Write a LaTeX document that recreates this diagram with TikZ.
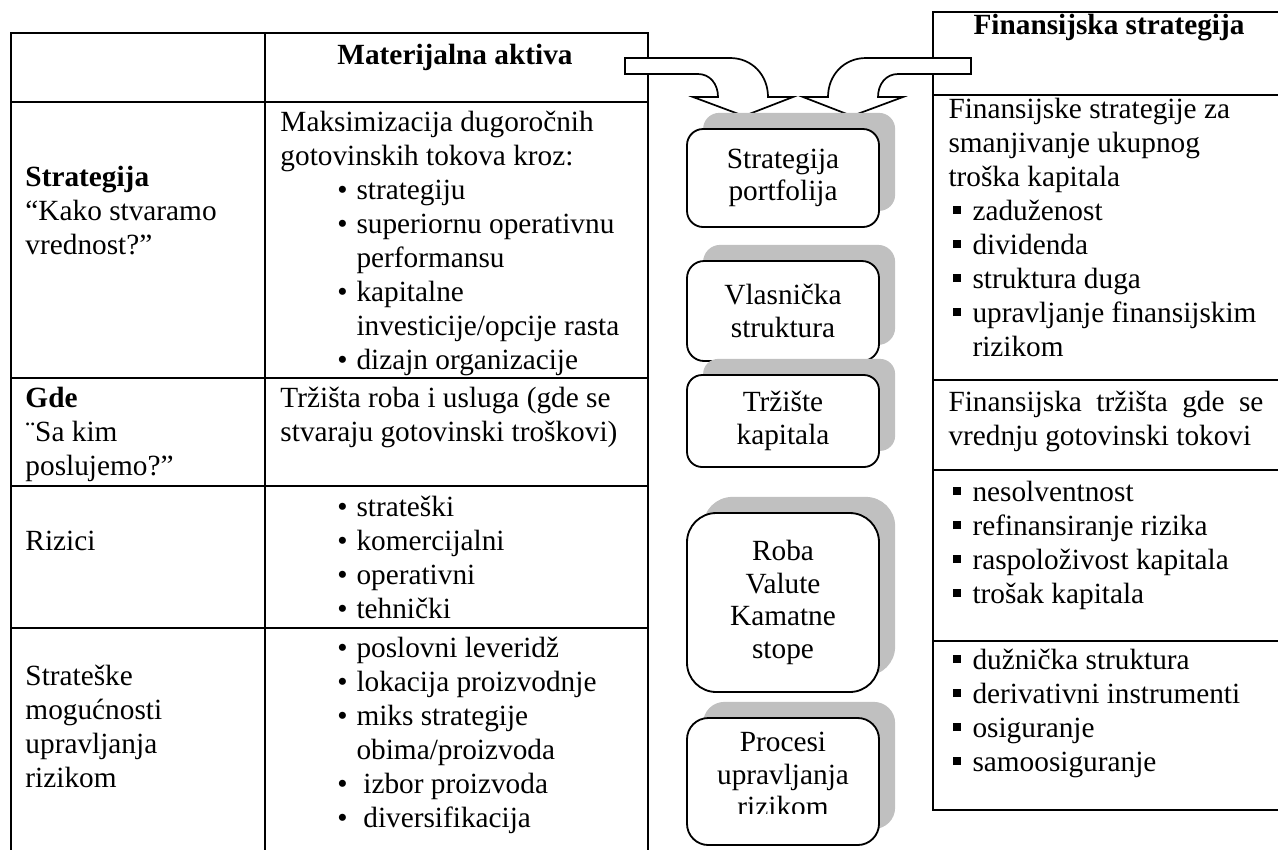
\documentclass[tikz,border=0pt]{standalone}
\usepackage{fontspec}
\setmainfont{Liberation Serif}
\usetikzlibrary{shadows}
\definecolor{shade}{HTML}{C0C0C0}

% bullet helpers (round bullets, square bullets, continuation indents)
\newcommand\bl[1]{\makebox[7.8pt][l]{\textbullet}#1}
\newcommand\blx[1]{\makebox[7.8pt][l]{\textbullet}\hspace{2.8pt}#1}
\newcommand\bc[1]{\hspace*{7.8pt}#1}
\newcommand\sqb[1]{\makebox[8.2pt][l]{\rule[2.4pt]{3.3pt}{3.3pt}}#1}
\newcommand\sqc[1]{\hspace*{8.2pt}#1}

% one text line per node; #3 = centre of first line, lines 34 units apart
\newcommand\celllines[4]{%
  \foreach \t [count=\i from 0] in {#4}{
    \node[txt,name=#1-\i] at (#2,{#3+9+\i*34}) {\t};}}

\tikzset{
  txt/.style={anchor=base west, inner sep=0pt, font=\fontsize{12pt}{13.28pt}\selectfont},
  head/.style={anchor=base, inner sep=0pt, font=\fontsize{12pt}{13.28pt}\selectfont\bfseries},
  tbl/.style={line width=0.9pt, line cap=rect},
  arr/.style={draw, fill=white, line width=0.7pt, line join=miter},
  box/.style={draw, fill=white, line width=0.75pt, rounded corners=#1, inner sep=0pt,
    minimum width={192*0.4096pt}, align=center,
    font=\fontsize{12pt}{13.28pt}\selectfont,
    general shadow={fill=shade, shadow xshift=6.6pt, shadow yshift=6.6pt}},
  boxtxt/.style={anchor=base, inner sep=0pt, font=\fontsize{12pt}{13.28pt}\selectfont}
}

\begin{document}
\begin{tikzpicture}[x=0.4096pt, y=-0.4096pt]
\useasboundingbox (0,0) rectangle (1278,849);
\fill[white] (0,0) rectangle (1278,849);

% ---- left table: tangible assets ----
\draw[tbl] (11,849) -- (11,33) -- (648,33) -- (648,849);
\draw[tbl] (265,33) -- (265,849);
\foreach \y in {102,378,486,628} \draw[tbl] (11,\y) -- (648,\y);

\node[head] (mat) at (455,64) {Materijalna aktiva};

\celllines{s1}{25}{177}{\textbf{Strategija},“Kako stvaramo,vrednost?”}
\celllines{s2}{280}{122}{Maksimizacija dugoročnih,gotovinskih tokova kroz:}
\celllines{s3}{337}{190}{\bl{strategiju},\bl{superiornu operativnu},\bc{performansu},\bl{kapitalne},\bc{investicije/opcije rasta},\bl{dizajn organizacije}}

\celllines{g1}{25}{398}{\textbf{Gde},¨Sa kim,poslujemo?”}
\celllines{g2}{280}{398}{Tržišta roba i usluga (gde se,stvaraju gotovinski troškovi)}

\celllines{r1}{25}{541}{Rizici}
\celllines{r2}{337}{507}{\bl{strateški},\bl{komercijalni},\bl{operativni},\bl{tehnički}}

\celllines{m1}{25}{676}{Strateške,mogućnosti,upravljanja,rizikom}
\celllines{m2}{337}{648}{\bl{poslovni leveridž},\bl{lokacija proizvodnje},\bl{miks strategije},\bc{obima/proizvoda},\blx{izbor proizvoda},\blx{diversifikacija}}

% ---- right table: financial strategy ----
\draw[tbl] (1290,12) -- (933,12) -- (933,810) -- (1290,810);
\foreach \y in {95,380,470,641} \draw[tbl] (933,\y) -- (1290,\y);

\node[head] (fin) at (1109,34) {Finansijska strategija};

\celllines{f1}{948}{109}{Finansijske strategije za,smanjivanje ukupnog,troška kapitala}
\celllines{f2}{952}{211}{\sqb{zaduženost},\sqb{dividenda},\sqb{struktura duga},\sqb{upravljanje finansijskim},\sqc{rizikom}}
\celllines{f3}{948}{402}{\makebox[129pt][s]{Finansijska tržišta gde se},vrednju gotovinski tokovi}
\celllines{f4}{952}{492}{\sqb{nesolventnost},\sqb{refinansiranje rizika},\sqb{raspoloživost kapitala},\sqb{trošak kapitala}}
\celllines{f5}{952}{660}{\sqb{dužnička struktura},\sqb{derivativni instrumenti},\sqb{osiguranje},\sqb{samoosiguranje}}

% ---- bent block arrows from both headers into the centre column ----
\draw[arr] (625,58) -- (730,58) .. controls (752,58) and (768,75) .. (768,97)
  -- (793,97) -- (744,116) -- (693,97) -- (718,97)
  .. controls (718,84) and (710,74) .. (698,74) -- (625,74) -- cycle;
\draw[arr] (971,58) -- (866,58) .. controls (844,58) and (828,75) .. (828,97)
  -- (803,97) -- (852,116) -- (903,97) -- (878,97)
  .. controls (878,84) and (886,74) .. (898,74) -- (971,74) -- cycle;

% ---- centre column of rounded boxes ----
\node[box=6.6pt, minimum height={98*0.4096pt}] (b1) at (783,178) {Strategija\\portfolija};
\node[box=7pt, minimum height={100*0.4096pt}] (b2) at (783,311) {Vlasnička\\struktura};
\node[box=6.2pt, minimum height={92*0.4096pt}] (b3) at (783,421) {Tržište\\kapitala};
\node[box=12pt, minimum height={179*0.4096pt}] (b4) at (783,602.5) {Roba\\Valute\\Kamatne\\stope};
\node[box=8.7pt, minimum height={127*0.4096pt}] (b5) at (783,781.5) {};
\begin{scope}
  % the last line runs past the text area of the box and is cut off
  \clip (687,718) rectangle (879,813);
  \node[boxtxt] (b5a) at (783,751) {Procesi};
  \node[boxtxt] (b5b) at (783,784) {upravljanja};
  \node[boxtxt] (b5c) at (783,816) {rizikom};
\end{scope}
\end{tikzpicture}
\end{document}
